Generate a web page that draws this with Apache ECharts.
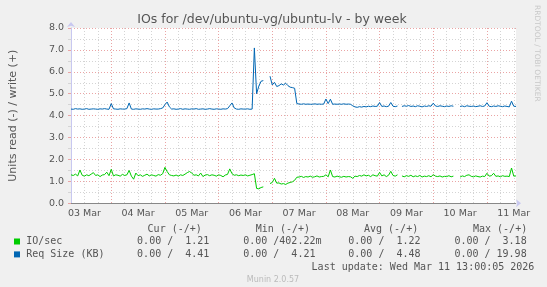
<!DOCTYPE html>
<html>
<head>
<meta charset="utf-8">
<script src="https://cdn.jsdelivr.net/npm/echarts@6/dist/echarts.min.js"></script>
<style>html,body{margin:0;padding:0;background:#f0f0f0;}#c{width:547px;height:287px;}</style>
</head>
<body>
<div id="c"></div>
<script>
// hours since 03 Mar 00:00, one value per hour from startHour
const startHour = 6;
const endHour = 205;
const dayLabels = ['03 Mar','04 Mar','05 Mar','06 Mar','07 Mar','08 Mar','09 Mar','10 Mar','11 Mar'];
const yTicks = [0,1,2,3,4,5,6,7,8];

const ioSec = [
  1.30,1.27,1.33,1.25,1.52,1.28,
  1.24,1.30,1.26,1.33,1.40,1.27, 1.30,1.22,1.29,1.31,1.42,1.26,
  1.55,1.25,1.30,1.28,1.24,1.32, 1.27,1.30,1.50,1.24,1.10,1.38,
  1.26,1.30,1.23,1.28,1.33,1.25, 1.30,1.27,1.24,1.31,1.28,1.35,
  1.64,1.45,1.30,1.27,1.25,1.29, 1.24,1.30,1.27,1.33,1.40,1.45,
  1.38,1.28,1.30,1.25,1.38,1.22, 1.29,1.31,1.26,1.30,1.28,1.24,
  1.30,1.27,1.21,1.29,1.32,1.57, 1.35,1.28,1.30,1.26,1.29,1.27,
  1.30,1.25,1.28,1.31,1.35,0.68, 0.66,0.72,0.75,null,null,0.90,
  0.95,1.14,0.92,0.93,0.88,0.90, 0.86,0.92,0.95,0.98,1.05,1.19,
  1.20,1.23,1.18,1.22,1.20,1.24, 1.19,1.21,1.25,1.20,1.22,1.23,
  1.30,1.21,1.52,1.22,1.20,1.24, 1.21,1.19,1.23,1.20,1.22,1.21,
  1.14,1.24,1.22,1.27,1.24,1.30, 1.25,1.28,1.22,1.30,1.26,1.24,
  1.41,1.25,1.30,1.22,1.28,1.46, 1.27,1.24,1.30,null,1.25,1.21,
  1.26,1.23,1.28,1.21,1.25,1.22, 1.27,1.20,1.24,1.22,1.26,1.21,
  1.31,1.24,1.22,1.25,1.20,1.23, 1.22,1.26,1.21,1.24,null,null,
  1.20,1.25,1.22,1.28,1.30,1.23, 1.21,1.25,1.22,1.20,1.24,1.22,
  1.37,1.24,1.26,1.37,1.23,1.25, 1.21,1.26,1.23,1.24,1.22,1.61,
  1.24,1.25
];

const reqSize = [
  4.30,4.29,4.32,4.30,4.31,4.29,
  4.30,4.32,4.29,4.30,4.31,4.30, 4.29,4.31,4.30,4.32,4.30,4.29,
  4.55,4.31,4.30,4.29,4.31,4.30, 4.30,4.32,4.58,4.30,4.29,4.31,
  4.30,4.29,4.31,4.30,4.32,4.30, 4.29,4.31,4.30,4.30,4.32,4.35,
  4.50,4.62,4.40,4.30,4.31,4.29, 4.30,4.32,4.29,4.31,4.30,4.29,
  4.31,4.30,4.32,4.29,4.30,4.31, 4.29,4.30,4.32,4.30,4.29,4.31,
  4.30,4.29,4.31,4.30,4.32,4.45, 4.58,4.35,4.30,4.29,4.31,4.30,
  4.30,4.31,4.29,4.30,7.09,5.00, 5.35,5.57,5.60,null,null,5.80,
  5.40,5.52,5.33,5.37,5.45,5.40, 5.48,5.37,5.30,5.28,5.25,4.55,
  4.53,4.52,4.54,4.52,4.53,4.52, 4.52,4.54,4.52,4.53,4.52,4.53,
  4.76,4.55,4.75,4.52,4.53,4.52, 4.53,4.52,4.54,4.52,4.53,4.52,
  4.45,4.40,4.38,4.41,4.39,4.42, 4.40,4.43,4.41,4.44,4.42,4.43,
  4.60,4.42,4.44,4.41,4.43,4.60, 4.43,4.41,4.44,null,4.42,4.45,
  4.43,4.46,4.42,4.44,4.41,4.45, 4.43,4.40,4.44,4.42,4.45,4.43,
  4.57,4.44,4.42,4.45,4.43,4.41, 4.44,4.42,4.45,4.43,null,null,
  4.42,4.44,4.41,4.45,4.43,4.42, 4.44,4.41,4.43,4.45,4.42,4.44,
  4.59,4.43,4.41,4.44,4.42,4.45, 4.43,4.41,4.44,4.42,4.40,4.66,
  4.43,4.42
];

const legendHeaders = ['Cur (-/+)','Min (-/+)','Avg (-/+)','Max (-/+)'];
const ioSecStats = ['0.00 /  1.21','0.00 /402.22m','0.00 /  1.22','0.00 /  3.18'];
const reqSizeStats = ['0.00 /  4.41','0.00 /  4.21','0.00 /  4.48','0.00 / 19.98'];

function pairs(vals){ return vals.map((v,i)=>[startHour+i, v]); }

const headerX = [147.6, 255.8, 364, 473];
const valueX = [137.1, 243.2, 348.3, 454.4];
const mono = '10px "DejaVu Sans Mono"';
const txt = '#555';
const graphics = [
  {type:'text', x:272, y:20, style:{text:'IOs for /dev/ubuntu-vg/ubuntu-lv - by week', font:'12.5px "DejaVu Sans"', fill:'#555', align:'center', verticalAlign:'middle'}},
  {type:'text', x:536.5, y:5, rotation:-Math.PI/2, style:{text:'RRDTOOL / TOBI OETIKER', font:'7.5px "DejaVu Sans"', fill:'#c8c8c8', align:'left', verticalAlign:'middle'}},
  {type:'rect', shape:{x:14, y:238.5, width:6, height:6}, style:{fill:'#00cc00'}},
  {type:'rect', shape:{x:14, y:251.4, width:6, height:6}, style:{fill:'#0066b3'}},
  {type:'text', x:26.2, y:241.4, style:{text:'IO/sec', font:mono, fill:txt, verticalAlign:'middle'}},
  {type:'text', x:26.2, y:254.3, style:{text:'Req Size (KB)', font:mono, fill:txt, verticalAlign:'middle'}},
  {type:'text', x:311.6, y:267, style:{text:'Last update: Wed Mar 11 13:00:05 2026', font:mono, fill:txt, verticalAlign:'middle'}},
  {type:'text', x:273, y:280, style:{text:'Munin 2.0.57', font:'8px "DejaVu Sans"', fill:'#bbbbbb', align:'center', verticalAlign:'middle'}}
];
legendHeaders.forEach((h,i)=>graphics.push({type:'text', x:headerX[i], y:229.2, style:{text:h, font:mono, fill:txt, verticalAlign:'middle'}}));
ioSecStats.forEach((s,i)=>graphics.push({type:'text', x:valueX[i], y:241.4, style:{text:s, font:mono, fill:txt, verticalAlign:'middle'}}));
reqSizeStats.forEach((s,i)=>graphics.push({type:'text', x:valueX[i], y:254.3, style:{text:s, font:mono, fill:txt, verticalAlign:'middle'}}));

const chart = echarts.init(document.getElementById('c'), null, {renderer:'canvas'});
chart.setOption({
  animation:false,
  backgroundColor:'#f0f0f0',
  grid:{left:67.5, right:31, top:28, bottom:83.7, show:true, backgroundColor:'#ffffff', borderWidth:0, containLabel:false},
  xAxis:{
    type:'value', min:startHour, max:endHour, interval:6,
    axisLine:{show:true, lineStyle:{color:'#c8c8f0', width:1}, symbol:['none','arrow'], symbolSize:[6,5], symbolOffset:[0,5]},
    axisTick:{show:false},
    axisLabel:{interval:0, margin:5, color:'#555', fontFamily:'DejaVu Sans', fontSize:9.5,
      showMinLabel:true, showMaxLabel:true,
      formatter:function(v){ return (v % 24 === 12) ? dayLabels[(v-12)/24] : ''; }},
    splitLine:{show:true, showMaxLine:false, lineStyle:{color:['#d4d4d4','#d4d4d4','#d4d4d4','#eaa4a4'], type:[1,2], width:1}}
  },
  yAxis:{
    type:'value', min:yTicks[0], max:yTicks[yTicks.length-1], interval:1,
    name:'Units read (-) / write (+)', nameLocation:'middle', nameGap:52, nameRotate:90,
    nameTextStyle:{color:'#555', fontFamily:'DejaVu Sans', fontSize:11},
    axisLine:{show:true, lineStyle:{color:'#c8c8f0', width:1}, symbol:['none','arrow'], symbolSize:[6,5], symbolOffset:[0,6]},
    axisTick:{show:true, length:3, lineStyle:{color:'#eaa4a4'}},
    minorTick:{show:true, splitNumber:2, length:3, lineStyle:{color:'#d4d4d4'}},
    axisLabel:{margin:7, color:'#555', fontFamily:'DejaVu Sans', fontSize:9.5, formatter:function(v){return v.toFixed(1);}},
    splitLine:{show:true, lineStyle:{color:'#eaa4a4', type:[1,2], width:1}},
    minorSplitLine:{show:true, lineStyle:{color:'#d4d4d4', type:[1,2], width:1}}
  },
  series:[
    {name:'IO/sec', type:'line', data:pairs(ioSec), showSymbol:false, symbol:'none', connectNulls:false,
     lineStyle:{color:'#00cc00', width:1}, itemStyle:{color:'#00cc00'},
     markLine:{silent:true, symbol:'none', label:{show:false}, lineStyle:{color:'#888', type:'solid', width:1}, data:[{yAxis:0}]}},
    {name:'Req Size (KB)', type:'line', data:pairs(reqSize), showSymbol:false, symbol:'none', connectNulls:false,
     lineStyle:{color:'#0066b3', width:1}, itemStyle:{color:'#0066b3'}}
  ],
  graphic:graphics
});
</script>
</body>
</html>
